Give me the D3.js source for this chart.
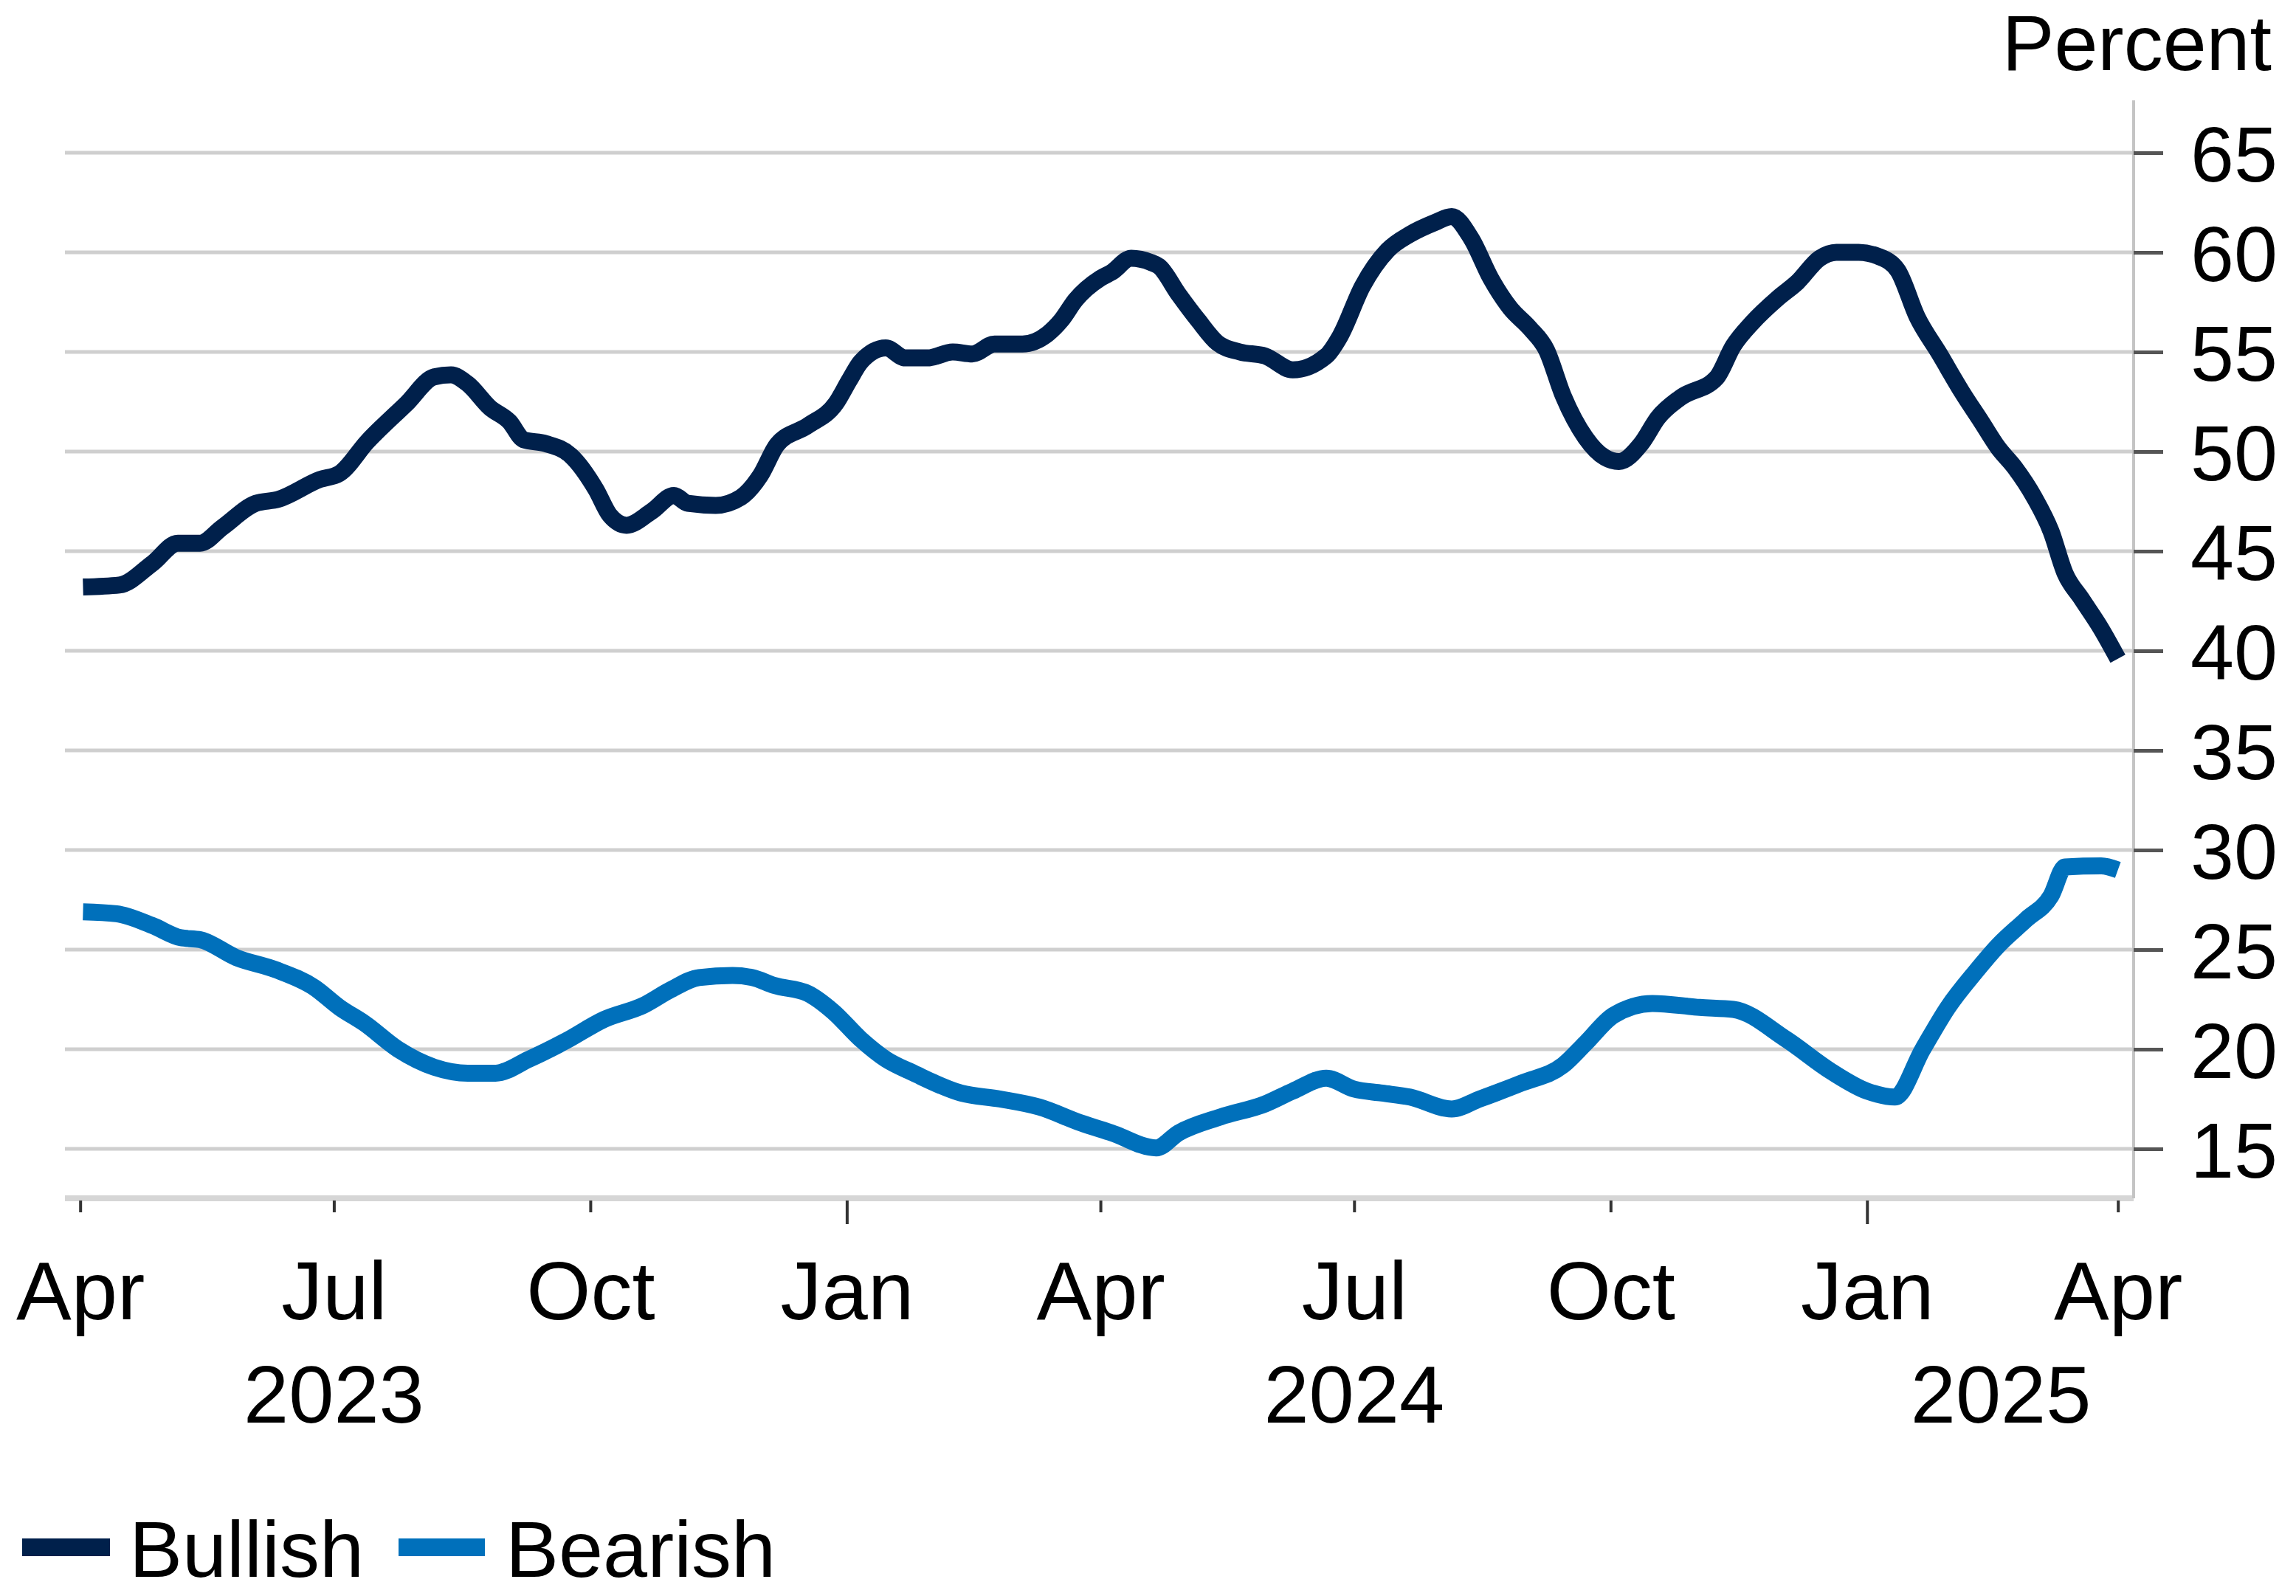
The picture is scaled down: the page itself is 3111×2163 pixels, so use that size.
<!DOCTYPE html>
<html>
<head>
<meta charset="utf-8">
<script src="https://cdn.jsdelivr.net/npm/d3@7/dist/d3.min.js"></script>
<style>
  html, body { margin: 0; padding: 0; background: #ffffff; }
  svg { display: block; }
  text { font-family: "Liberation Sans", Arial, sans-serif; fill: #000; }
</style>
</head>
<body>
<svg id="chart" width="3111" height="2163"></svg>
<script>
// ---------------- DATA ----------------
const bullishDates = ["2023-04-02","2023-04-15","2023-04-27","2023-05-06","2023-05-14","2023-05-22","2023-06-03","2023-06-11","2023-06-26","2023-07-03","2023-07-13","2023-07-27","2023-08-06","2023-08-12","2023-08-18","2023-08-26","2023-09-02","2023-09-07","2023-09-15","2023-09-24","2023-10-03","2023-10-08","2023-10-14","2023-10-23","2023-10-31","2023-11-05","2023-11-15","2023-11-24","2023-12-01","2023-12-07","2023-12-18","2023-12-28","2024-01-02","2024-01-06","2024-01-15","2024-01-22","2024-01-30","2024-02-08","2024-02-15","2024-02-23","2024-03-04","2024-03-13","2024-03-18","2024-03-23","2024-04-01","2024-04-05","2024-04-12","2024-04-19","2024-04-22","2024-04-29","2024-05-06","2024-05-13","2024-05-21","2024-05-30","2024-06-09","2024-06-21","2024-06-26","2024-07-04","2024-07-13","2024-07-21","2024-07-30","2024-08-05","2024-08-12","2024-08-19","2024-08-26","2024-09-02","2024-09-08","2024-09-14","2024-09-22","2024-09-29","2024-10-04","2024-10-12","2024-10-18","2024-10-26","2024-11-08","2024-11-14","2024-11-21","2024-11-30","2024-12-07","2024-12-15","2024-12-21","2024-12-29","2025-01-05","2025-01-12","2025-01-19","2025-01-27","2025-02-04","2025-02-11","2025-02-17","2025-02-23","2025-03-02","2025-03-08","2025-03-13","2025-03-19","2025-03-26","2025-04-01"];
const bullishValues = [43.2,43.3,44.4,45.4,45.4,46.2,47.4,47.6,48.6,48.9,50.5,52.4,53.75,53.85,53.4,52.2,51.5,50.6,50.4,49.8,48.1,46.8,46.3,47.0,47.8,47.4,47.3,47.7,48.8,50.35,51.3,52.4,53.6,54.5,55.2,54.7,54.7,55.0,54.9,55.4,55.4,55.9,56.6,57.6,58.7,59.0,59.7,59.5,59.3,57.9,56.6,55.45,55.0,54.8,54.1,54.8,55.8,58.3,60.1,60.9,61.5,61.8,60.7,58.7,57.2,56.2,55.1,52.8,50.7,49.7,49.5,50.4,51.7,52.7,53.7,55.3,56.5,57.7,58.5,59.7,60.0,60.0,59.8,59.1,56.75,54.9,53.0,51.5,50.2,49.2,47.7,46.0,43.9,42.6,41.1,39.6];

const bearishDates = ["2023-04-02","2023-04-14","2023-04-27","2023-05-07","2023-05-14","2023-05-27","2023-06-10","2023-06-24","2023-07-03","2023-07-12","2023-07-24","2023-08-06","2023-08-18","2023-08-28","2023-09-09","2023-09-22","2023-10-06","2023-10-20","2023-10-30","2023-11-09","2023-11-21","2023-11-28","2023-12-06","2023-12-18","2023-12-27","2024-01-06","2024-01-15","2024-01-25","2024-02-11","2024-02-25","2024-03-10","2024-03-25","2024-04-05","2024-04-21","2024-04-29","2024-05-14","2024-05-30","2024-06-09","2024-06-21","2024-07-01","2024-07-11","2024-07-21","2024-08-05","2024-08-15","2024-08-30","2024-09-14","2024-09-22","2024-10-02","2024-10-16","2024-11-02","2024-11-14","2024-12-03","2024-12-19","2025-01-01","2025-01-11","2025-01-21","2025-01-30","2025-02-09","2025-02-17","2025-02-27","2025-03-08","2025-03-13","2025-03-26","2025-04-01"];
const bearishValues = [26.9,26.8,26.2,25.6,25.5,24.6,24.0,23.1,22.1,21.3,20.0,19.1,18.8,18.8,19.5,20.4,21.5,22.2,23.0,23.6,23.7,23.6,23.2,22.8,21.9,20.5,19.5,18.8,17.8,17.5,17.1,16.3,15.8,15.05,15.8,16.6,17.25,17.9,18.55,18.0,17.8,17.6,17.0,17.5,18.3,19.2,20.3,21.7,22.3,22.1,22.0,20.5,18.9,17.9,17.6,20.0,22.1,23.9,25.2,26.5,27.7,29.15,29.2,29.0];

const yTicks = [15, 20, 25, 30, 35, 40, 45, 50, 55, 60, 65];
const xTickDates = ["2023-04-01","2023-07-01","2023-10-01","2024-01-01","2024-04-01","2024-07-01","2024-10-01","2025-01-01","2025-04-01"];
const xTickLabels = ["Apr","Jul","Oct","Jan","Apr","Jul","Oct","Jan","Apr"];
const yearLabels = ["2023", "2024", "2025"];
const yearLabelDates = ["2023-07-01", "2024-07-01", "2025-02-18"];
const seriesNames = ["Bullish", "Bearish"];
const seriesColors = ["#00204b", "#0070bb"];
const unitLabel = "Percent";

// ---------------- LAYOUT ----------------
const parse = d3.utcParse("%Y-%m-%d");
const W = 3111, H = 2163;
const plotLeft = 88, plotRight = 2891, plotTop = 136, plotBottom = 1624;

const x = d3.scaleUtc()
  .domain([parse("2023-04-01"), parse("2025-04-01")])
  .range([108.7, 2869.7]);
const y = d3.scaleLinear().domain([15, 65]).range([1557, 207]);

const svg = d3.select("#chart");
svg.append("rect").attr("width", W).attr("height", H).attr("fill", "#fff");

// gridlines
svg.append("g").selectAll("line").data(yTicks).join("line")
  .attr("x1", plotLeft).attr("x2", plotRight)
  .attr("y1", d => y(d)).attr("y2", d => y(d))
  .attr("stroke", "#cfcfcf").attr("stroke-width", 5);

// bottom axis baseline
svg.append("line")
  .attr("x1", plotLeft).attr("x2", plotRight)
  .attr("y1", plotBottom).attr("y2", plotBottom)
  .attr("stroke", "#d6d6d6").attr("stroke-width", 8);

// right axis vertical line
svg.append("line")
  .attr("x1", plotRight).attr("x2", plotRight)
  .attr("y1", plotTop).attr("y2", plotBottom)
  .attr("stroke", "#c4c4c4").attr("stroke-width", 4);

// right axis ticks + labels
const yAxis = d3.axisRight(y).tickValues(yTicks).tickSize(40).tickSizeOuter(0)
  .tickFormat(d3.format("d"));
const gy = svg.append("g").attr("transform", `translate(${plotRight},0)`).call(yAxis);
gy.select(".domain").remove();
gy.selectAll(".tick line").attr("stroke", "#555").attr("stroke-width", 5);
gy.selectAll(".tick text")
  .attr("x", 195).attr("dy", "0.36em").attr("text-anchor", "end")
  .attr("font-size", 106).attr("fill", "#000")
  .style("font-family", '"Liberation Sans", Arial, sans-serif');

// unit label
svg.append("text").attr("x", 3078).attr("y", 95).attr("text-anchor", "end")
  .attr("font-size", 106).text(unitLabel);

// bottom axis ticks + labels
const xTickParsed = xTickDates.map(parse);
const xAxis = d3.axisBottom(x).tickValues(xTickParsed).tickSizeOuter(0)
  .tickSize(16).tickPadding(0)
  .tickFormat((d, i) => xTickLabels[i]);
const gx = svg.append("g").attr("transform", `translate(0,${plotBottom + 3})`).call(xAxis);
gx.select(".domain").remove();
gx.selectAll(".tick line")
  .attr("stroke", "#333").attr("stroke-width", 4)
  .attr("y2", (d) => d.getUTCMonth() === 0 ? 32 : 16);
gx.selectAll(".tick text")
  .attr("y", 161).attr("dy", 0)
  .attr("font-size", 112).attr("fill", "#000")
  .style("font-family", '"Liberation Sans", Arial, sans-serif');

// year labels
svg.append("g").selectAll("text").data(yearLabels).join("text")
  .attr("x", (d, i) => x(parse(yearLabelDates[i])))
  .attr("y", 1928).attr("text-anchor", "middle")
  .attr("font-size", 110).text(d => d);

// lines
const line = d3.line().x(d => x(d.date)).y(d => y(d.value)).curve(d3.curveMonotoneX);
const bullish = bullishDates.map((d, i) => ({ date: parse(d), value: bullishValues[i] }));
const bearish = bearishDates.map((d, i) => ({ date: parse(d), value: bearishValues[i] }));
[bullish, bearish].forEach((s, i) => {
  svg.append("path").datum(s).attr("d", line)
    .attr("fill", "none").attr("stroke", seriesColors[i])
    .attr("stroke-width", 23).attr("stroke-linejoin", "round");
});

// legend
const legendItems = [
  { name: seriesNames[0], color: seriesColors[0], x0: 30, x1: 149, tx: 175 },
  { name: seriesNames[1], color: seriesColors[1], x0: 540, x1: 657, tx: 685 }
];
const lg = svg.append("g");
legendItems.forEach(it => {
  lg.append("line").attr("x1", it.x0).attr("x2", it.x1).attr("y1", 2097).attr("y2", 2097)
    .attr("stroke", it.color).attr("stroke-width", 24);
  lg.append("text").attr("x", it.tx).attr("y", 2137).attr("font-size", 108).text(it.name);
});
</script>
</body>
</html>
